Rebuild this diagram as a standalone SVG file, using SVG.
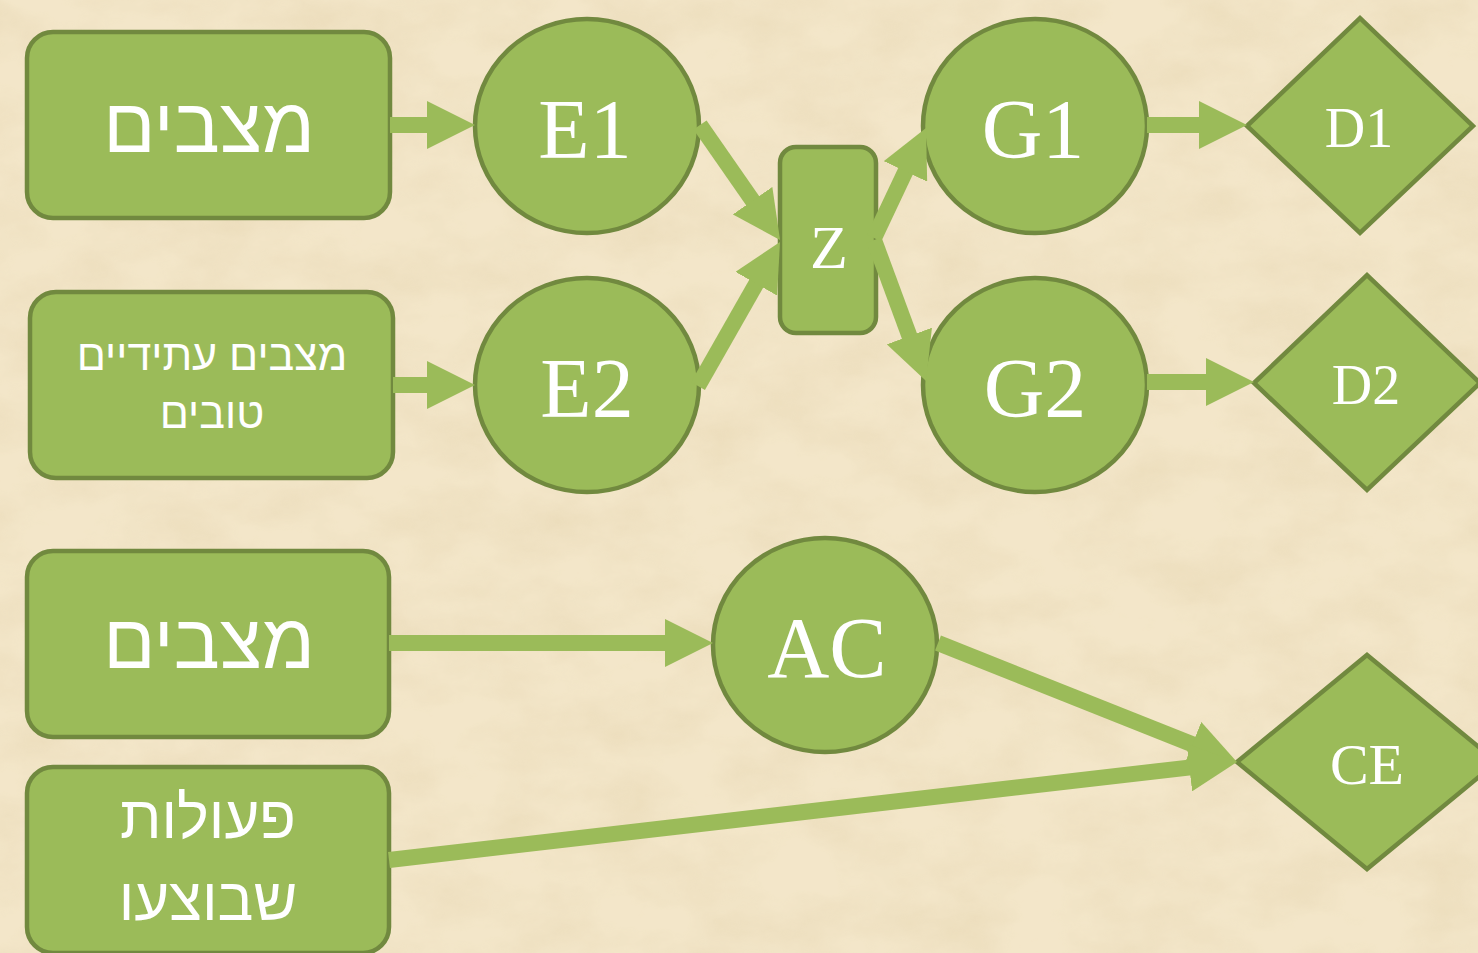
<svg xmlns="http://www.w3.org/2000/svg" width="1478" height="953" viewBox="0 0 1478 953">
<defs>
<filter id="parch" x="0" y="0" width="100%" height="100%">
<feTurbulence type="fractalNoise" baseFrequency="0.012 0.02" numOctaves="5" seed="7" result="n"/>
<feColorMatrix in="n" type="matrix" values="0 0 0 0 0.80  0 0 0 0 0.68  0 0 0 0 0.45  0 0 0 -1.6 1.05" result="c"/>
<feComposite in="c" in2="SourceGraphic" operator="in"/>
</filter>
<marker id="ah" markerUnits="strokeWidth" markerWidth="3" markerHeight="3" viewBox="0 0 3 3" refX="0.5" refY="1.5" orient="auto">
<path d="M0,0 L3,1.5 L0,3 z" fill="#9BBB59"/>
</marker>
<style>
.nd{fill:#9BBB59;stroke:#71893F;stroke-width:4.5}
.he{fill:#fff;font-family:"Liberation Sans","DejaVu Sans",sans-serif;text-anchor:middle}
.la{fill:#fff;font-family:"Liberation Serif","DejaVu Serif",serif;text-anchor:middle}
.cn{stroke:#9BBB59;stroke-width:16;fill:none;marker-end:url(#ah)}
</style>
</defs>
<rect width="1478" height="953" fill="#F3E6C9"/>
<rect width="1478" height="953" fill="#F3E6C9" filter="url(#parch)" opacity="0.6"/>

<g id="box1"><rect class="nd" x="27" y="32" width="363" height="186" rx="26"/><text class="he" x="209" y="152" font-size="77">מצבים</text></g>
<g id="box2"><rect class="nd" x="30" y="292" width="363" height="186" rx="26"/><text class="he" x="212" y="370" font-size="43">מצבים עתידיים</text><text class="he" x="212" y="428" font-size="43">טובים</text></g>
<g id="box3"><rect class="nd" x="27" y="551" width="362" height="186" rx="26"/><text class="he" x="209" y="668" font-size="77">מצבים</text></g>
<g id="box4"><rect class="nd" x="27" y="767" width="362" height="186" rx="26"/><text class="he" x="208" y="838" font-size="60">פעולות</text><text class="he" x="208" y="920" font-size="60">שבוצעו</text></g>

<g id="E1"><ellipse class="nd" cx="587" cy="126" rx="112" ry="107"/><text class="la" x="585" y="158" font-size="84">E1</text></g>
<g id="E2"><ellipse class="nd" cx="587" cy="385" rx="112" ry="107"/><text class="la" x="587" y="417" font-size="84">E2</text></g>
<g id="Z"><rect class="nd" x="780" y="147" width="96" height="186" rx="16"/><text class="la" x="829" y="268" font-size="62">Z</text></g>
<g id="G1"><ellipse class="nd" cx="1035" cy="126" rx="112" ry="107"/><text class="la" x="1033" y="158" font-size="84">G1</text></g>
<g id="G2"><ellipse class="nd" cx="1035" cy="385" rx="112" ry="107"/><text class="la" x="1035" y="417" font-size="84">G2</text></g>
<g id="D1"><polygon class="nd" points="1247,126 1360,18 1473,126 1360,233"/><text class="la" x="1359" y="147" font-size="56">D1</text></g>
<g id="D2"><polygon class="nd" points="1254,383 1367,275 1480,383 1367,490"/><text class="la" x="1366" y="404" font-size="56">D2</text></g>
<g id="AC"><ellipse class="nd" cx="825" cy="645" rx="112" ry="107"/><text class="la" x="827" y="677" font-size="86">AC</text></g>
<g id="CE"><polygon class="nd" points="1237,762 1367,655 1497,762 1367,869"/><text class="la" x="1367" y="784" font-size="58">CE</text></g>

<g id="connectors">
<line class="cn" x1="390" y1="125" x2="435" y2="125"/>
<line class="cn" x1="393" y1="385" x2="435" y2="385"/>
<line class="cn" x1="700" y1="125" x2="757.2" y2="207.2"/>
<line class="cn" x1="698" y1="386" x2="760.2" y2="276.8"/>
<line class="cn" x1="874" y1="238" x2="908.9" y2="164.2"/>
<line class="cn" x1="874" y1="240" x2="912.2" y2="343.5"/>
<line class="cn" x1="1147" y1="125" x2="1207" y2="125"/>
<line class="cn" x1="1147" y1="382" x2="1214" y2="382"/>
<line class="cn" x1="389" y1="643" x2="673" y2="643"/>
<line class="cn" x1="938" y1="643" x2="1199.8" y2="747.2"/>
<line class="cn" x1="389" y1="860" x2="1197.3" y2="766.6"/>
</g>
</svg>
